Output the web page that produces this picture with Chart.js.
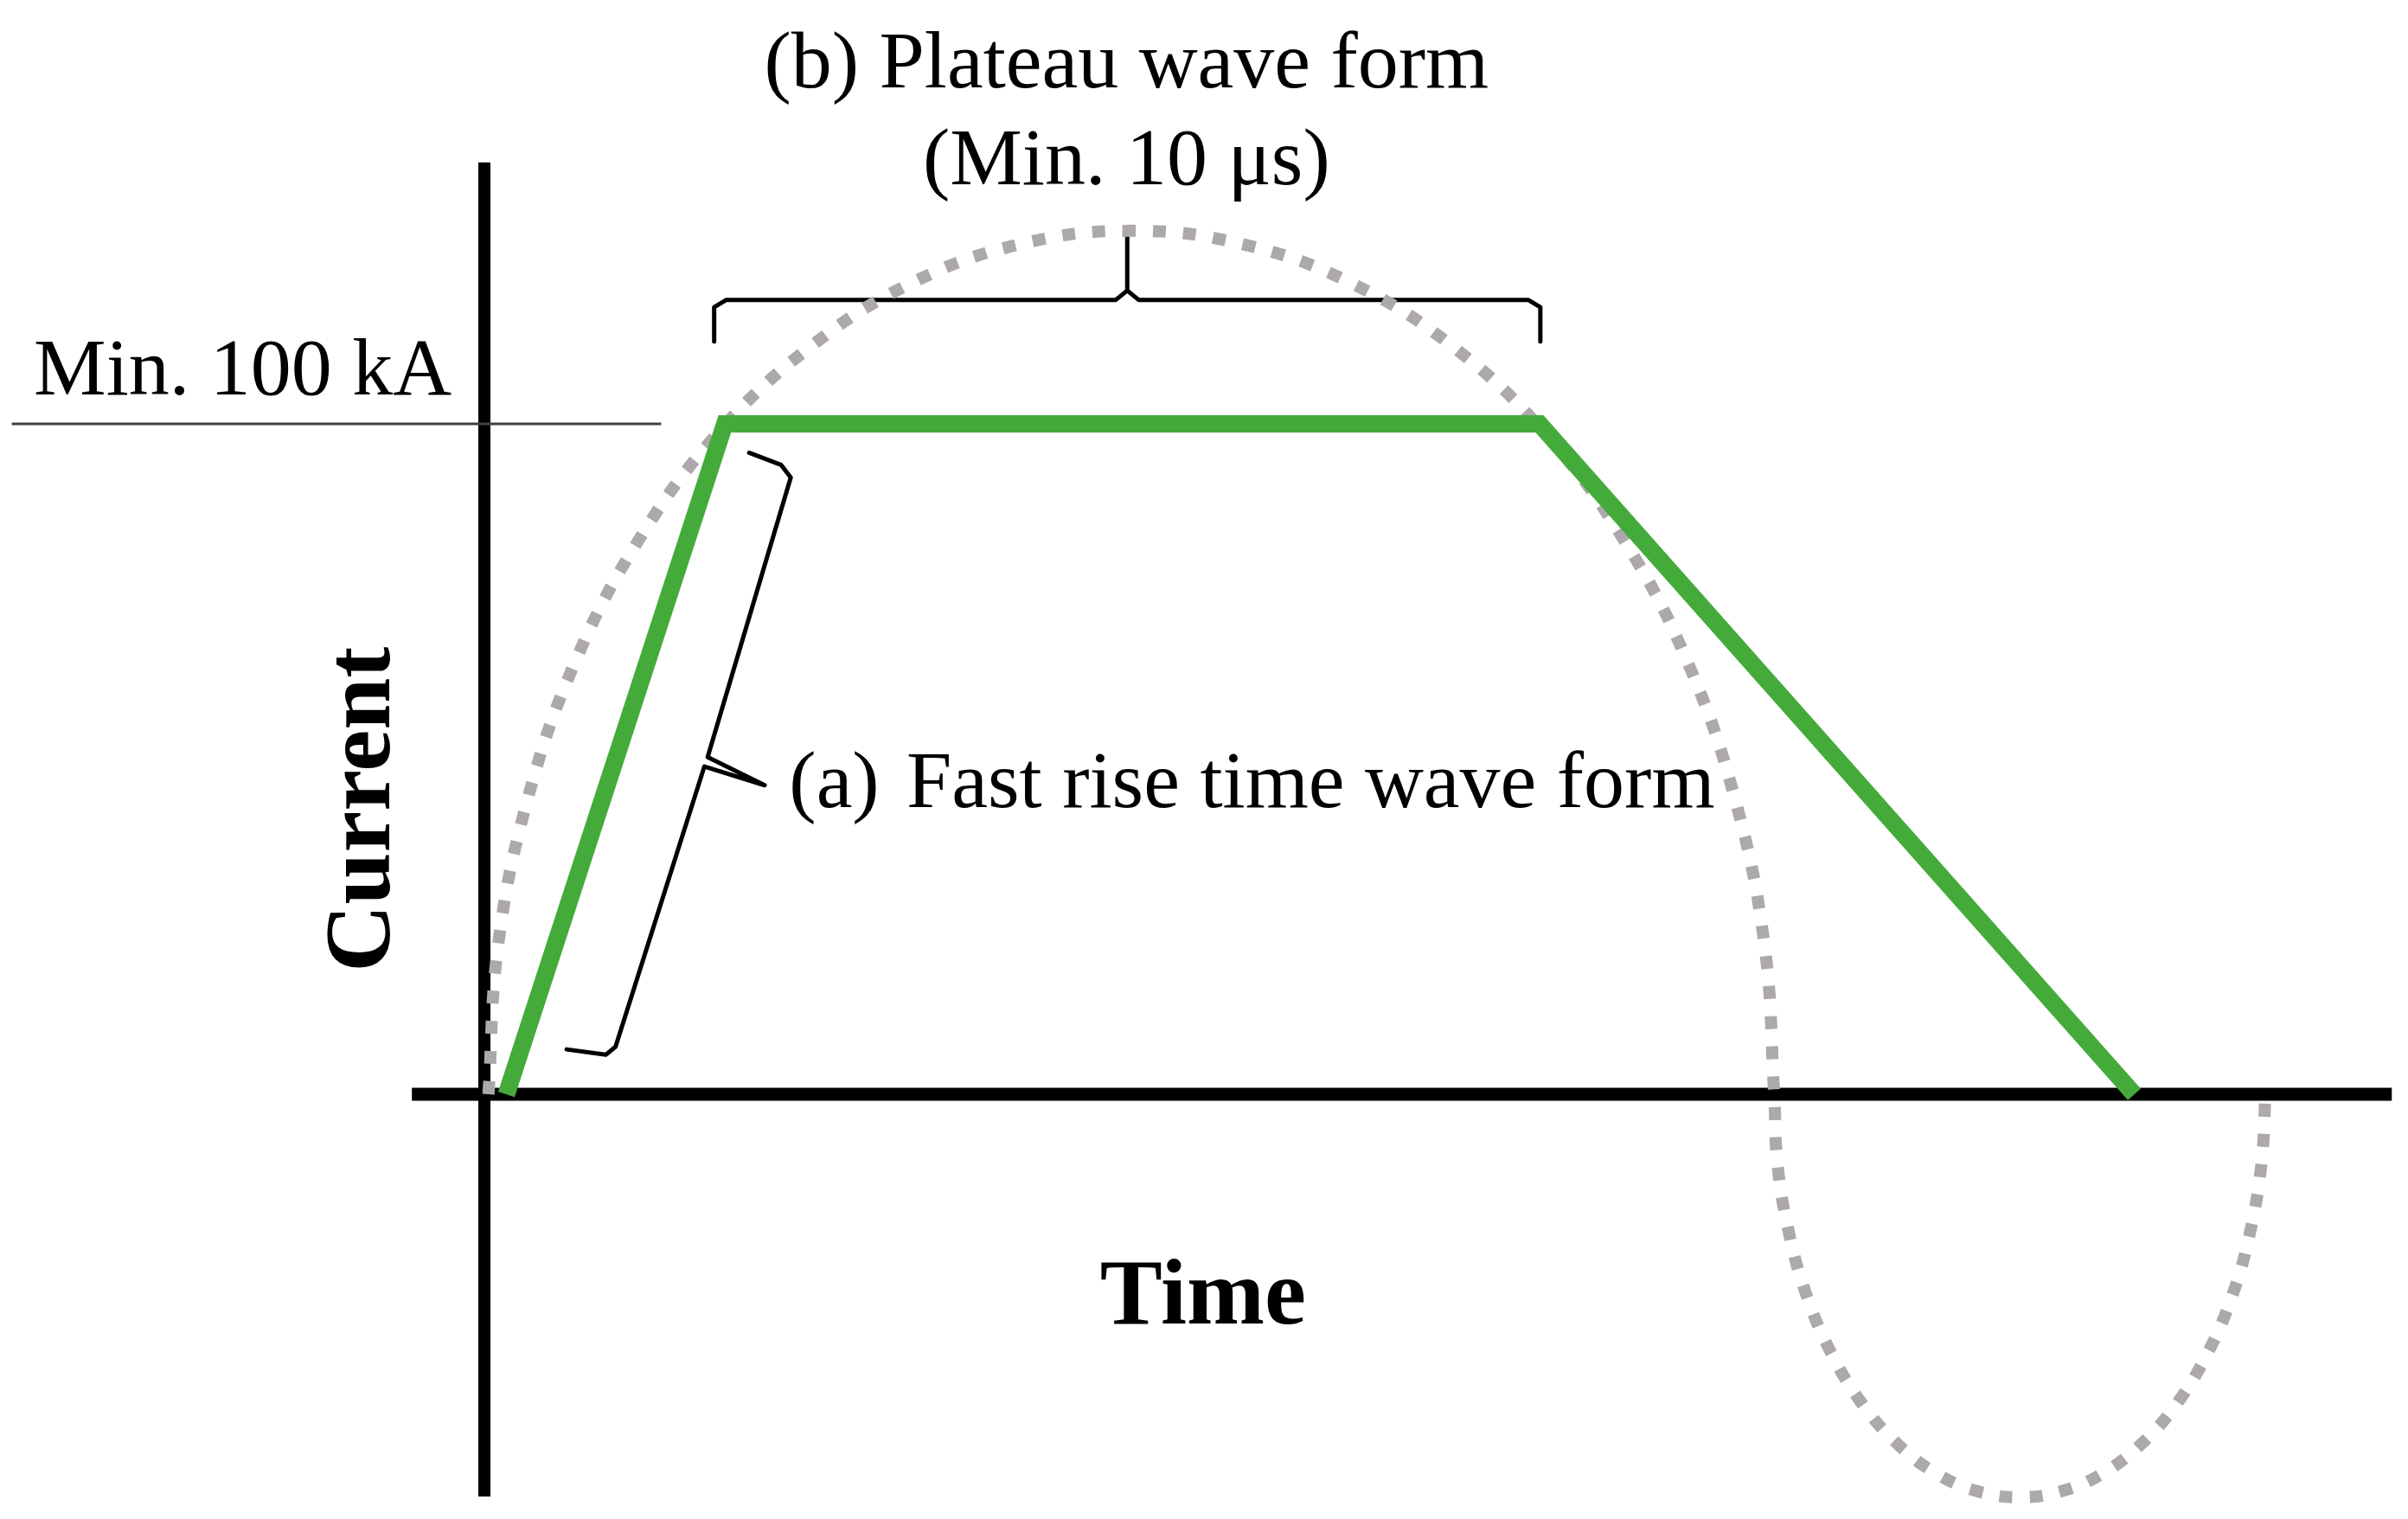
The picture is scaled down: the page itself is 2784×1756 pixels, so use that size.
<!DOCTYPE html>
<html>
<head>
<meta charset="utf-8">
<script src="https://cdn.jsdelivr.net/npm/chart.js@4.4.1/dist/chart.umd.min.js"></script>
<style>
  html, body { margin: 0; padding: 0; background: #fff; }
  #wrap { width: 2784px; height: 1756px; position: relative; }
</style>
</head>
<body>
<div id="wrap"><canvas id="chart"></canvas></div>
<script>
// Plateau (trapezoid) current pulse, time in us, current in kA
const pulseTime = [0.27, 2.95, 12.95, 20.25];
const pulseCurrent = [0, 100, 100, 0];

// Reference oscillation (gray dotted)
const sineTime = [0.05, 0.17, 0.53, 1.11, 1.90, 2.87, 4.00, 5.24, 6.57, 7.94, 9.31, 10.64, 11.89, 13.01, 13.98, 14.77, 15.35, 15.71, 15.83,
  15.87, 16.01, 16.23, 16.53, 16.90, 17.33, 17.81, 18.32, 18.84, 19.36, 19.87, 20.35, 20.78, 21.15, 21.45, 21.67, 21.81, 21.86];
const sineCurrent = [0, 22.4, 44.0, 64.4, 82.8, 98.7, 111.5, 121.0, 126.8, 128.8, 126.8, 121.0, 111.5, 98.7, 82.8, 64.4, 44.0, 22.4, 0,
  -10.4, -20.6, -30.1, -38.6, -46.0, -52.0, -56.5, -59.2, -60.1, -59.2, -56.5, -52.0, -46.0, -38.6, -30.1, -20.6, -10.4, 0];

// Axes and the 100 kA reference line
const yAxisTime = [0, 0];
const yAxisCurrent = [139.0, -60.0];
const xAxisTime = [-0.89, 23.41];
const xAxisCurrent = [0, 0];
const refTime = [-5.80, 2.17];
const refCurrent = [100, 100];

// Braces
const braceBTime = [2.82, 2.82, 2.97, 7.75, 7.89, 7.89, 7.89, 8.03, 12.81, 12.96, 12.96];
const braceBCurrent = [112.3, 117.4, 118.5, 118.5, 119.9, 128.4, 119.9, 118.5, 118.5, 117.4, 112.3];
const braceATime = [3.25, 3.64, 3.76, 2.74, 3.44, 2.70, 1.61, 1.49, 1.01];
const braceACurrent = [95.7, 93.9, 92.0, 50.3, 46.1, 48.9, 7.1, 5.9, 6.7];

// Text labels
const labelPeak = 'Min. 100 kA';
const labelPlateau = ['(b) Plateau wave form', '(Min. 10 μs)'];
const labelRise = ['(a)', 'Fast rise time wave form'];
const labelY = 'Current';
const labelX = 'Time';

function toPoints(xs, ys) {
  return xs.map((x, i) => ({ x: x, y: ys[i] }));
}

function lineSet(label, xs, ys, color, width, extra) {
  return Object.assign({
    label: label,
    data: toPoints(xs, ys),
    borderColor: color,
    borderWidth: width,
    pointRadius: 0,
    tension: 0,
    fill: false,
    borderCapStyle: 'butt',
    borderJoinStyle: 'miter'
  }, extra || {});
}

const serif = "'Liberation Serif', 'Times New Roman', serif";

// draws the text annotations at data positions
const textPlugin = {
  id: 'diagramText',
  afterDatasetsDraw(chart) {
    const ctx = chart.ctx;
    const xs = chart.scales.x;
    const ys = chart.scales.y;
    const px = v => xs.getPixelForValue(v);
    const py = v => ys.getPixelForValue(v);
    ctx.save();
    ctx.fillStyle = '#000';
    ctx.textBaseline = 'alphabetic';

    ctx.font = '94px ' + serif;
    ctx.textAlign = 'left';
    ctx.fillText(labelPeak, px(-5.53), py(104.4));
    ctx.fillText(labelRise[0], px(3.74), py(42.8));
    ctx.fillText(labelRise[1], px(5.18), py(42.8));

    ctx.textAlign = 'center';
    ctx.fillText(labelPlateau[0], px(7.88), py(150.2));
    ctx.fillText(labelPlateau[1], px(7.88), py(135.7));

    ctx.font = 'bold 108px ' + serif;
    ctx.fillText(labelX, px(8.82), py(-34.2));

    ctx.translate(px(-1.17), py(42.5));
    ctx.rotate(-Math.PI / 2);
    ctx.fillText(labelY, 0, 0);
    ctx.restore();
  }
};

new Chart(document.getElementById('chart'), {
  type: 'line',
  data: {
    datasets: [
      lineSet('Pulse', pulseTime, pulseCurrent, '#44ab3b', 20, { order: 0 }),
      lineSet('Oscillation', sineTime, sineCurrent, '#aca8ab', 14, { order: 1, tension: 0.4, borderDash: [15, 20] }),
      lineSet('Brace b', braceBTime, braceBCurrent, '#000', 5, { order: 1, borderJoinStyle: 'round', borderCapStyle: 'round' }),
      lineSet('Brace a', braceATime, braceACurrent, '#000', 5, { order: 1, borderJoinStyle: 'round', borderCapStyle: 'round' }),
      lineSet('Reference', refTime, refCurrent, '#404040', 3, { order: 2 }),
      lineSet('Y axis', yAxisTime, yAxisCurrent, '#000', 14, { order: 2 }),
      lineSet('X axis', xAxisTime, xAxisCurrent, '#000', 15, { order: 2 })
    ]
  },
  options: {
    responsive: true,
    maintainAspectRatio: false,
    animation: false,
    devicePixelRatio: 1,
    layout: { padding: 0 },
    plugins: {
      legend: { display: false },
      tooltip: { enabled: false }
    },
    scales: {
      x: { type: 'linear', display: false, min: -5.945, max: 23.609 },
      y: { type: 'linear', display: false, min: -63.35, max: 163.23 }
    }
  },
  plugins: [textPlugin]
});
</script>
</body>
</html>
